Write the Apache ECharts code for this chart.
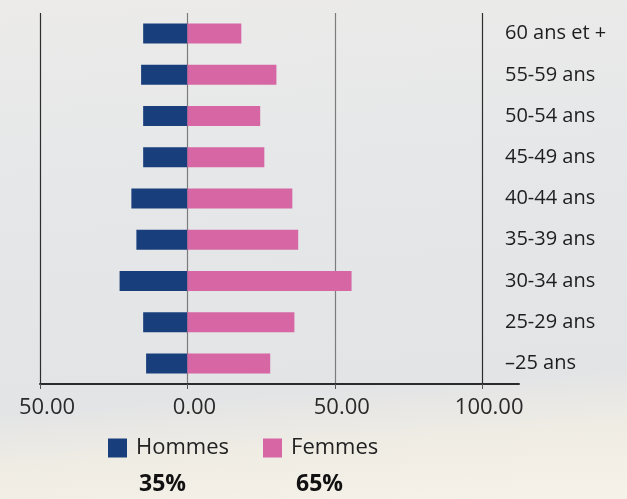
<!DOCTYPE html>
<html>
<head>
<meta charset="utf-8">
<script src="https://cdn.jsdelivr.net/npm/echarts@6/dist/echarts.min.js"></script>
<style>
  html, body { margin: 0; padding: 0; }
  body {
    width: 627px; height: 499px;
    background: linear-gradient(176deg, #ecebea 0%, #e4e6e8 45%, #e3e4e6 76%, #efece4 86%, #f6f2e9 100%);
  }
  #chart { width: 627px; height: 499px; }
</style>
</head>
<body>
<div id="chart"></div>
<script>
  // age groups, top to bottom
  const ageGroups = ["60 ans et +", "55-59 ans", "50-54 ans", "45-49 ans", "40-44 ans", "35-39 ans", "30-34 ans", "25-29 ans", "\u201325 ans"];
  const hommes = [15, 15.7, 15, 15, 19, 17.3, 23, 15, 14];
  const femmes = [18.3, 30.2, 24.7, 26.1, 35.6, 37.6, 55.7, 36.3, 28.1];
  const xTicks = [-50, 0, 50, 100];
  const shares = ["35%", "65%"];

  const font = "Open Sans";
  const chart = echarts.init(document.getElementById("chart"), null, { renderer: "canvas" });

  const option = {
    backgroundColor: "transparent",
    textStyle: { fontFamily: font },
    title: [
      { text: shares[0], left: 134, top: 468, textStyle: { fontFamily: font, fontSize: 23, fontWeight: "bold", color: "#111" } },
      { text: shares[1], left: 291, top: 468, textStyle: { fontFamily: font, fontSize: 23, fontWeight: "bold", color: "#111" } }
    ],
    legend: {
      left: 108,
      top: 437,
      padding: 0,
      icon: "rect",
      itemWidth: 19,
      itemHeight: 19,
      itemGap: 34,
      textStyle: { fontFamily: font, fontSize: 22, color: "#222", padding: [0, 0, 0, 4] },
      data: ["Hommes", "Femmes"]
    },
    grid: { left: 40, right: 108, top: 13, bottom: 115 },
    xAxis: {
      type: "value",
      min: -50,
      max: 112.5,
      interval: 50,
      axisLine: { show: true, lineStyle: { color: "#2b2b2b", width: 2 } },
      axisTick: { show: true, customValues: xTicks, length: 5, lineStyle: { color: "#555" } },
      axisLabel: {
        customValues: xTicks,
        formatter: v => Math.abs(v).toFixed(2),
        fontFamily: font,
        fontSize: 22,
        color: "#2a2a2a",
        margin: 13,
        padding: [0, 0, 0, 14]
      },
      splitLine: {
        show: true,
        lineStyle: { color: ["#2e2e2e", "#7c7c7c", "#7c7c7c", "#2e2e2e"], width: 1.2 }
      }
    },
    yAxis: {
      type: "category",
      data: ageGroups,
      inverse: true,
      position: "right",
      offset: -22,
      axisLine: { show: false },
      axisTick: { show: false },
      axisLabel: { margin: 8, fontFamily: font, fontSize: 20, color: "#1e1e1e" }
    },
    series: [
      {
        name: "Hommes",
        type: "bar",
        stack: "pop",
        barWidth: 20,
        itemStyle: { color: "#183e7c" },
        data: hommes.map(v => -v)
      },
      {
        name: "Femmes",
        type: "bar",
        stack: "pop",
        barWidth: 20,
        itemStyle: { color: "#d667a4" },
        data: femmes
      }
    ]
  };

  chart.setOption(option);
</script>
</body>
</html>
